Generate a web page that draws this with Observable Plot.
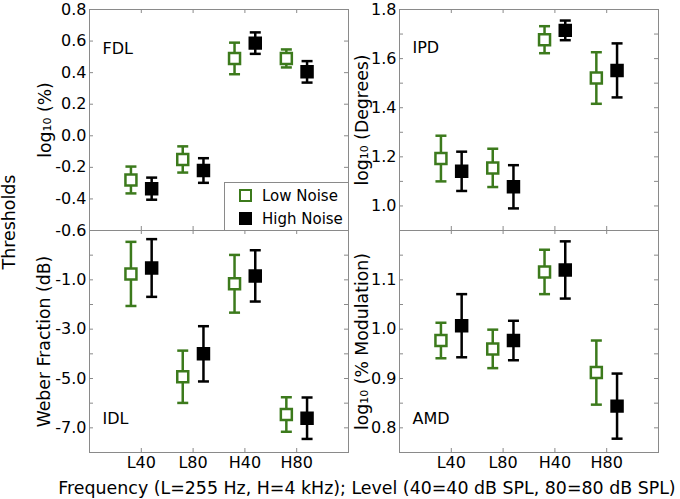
<!DOCTYPE html>
<html>
<head>
<meta charset="utf-8">
<script src="https://cdn.jsdelivr.net/npm/d3@7"></script>
<script src="https://cdn.jsdelivr.net/npm/@observablehq/plot@0.6"></script>
<style>
  body { margin: 0; background: #fff; font-family: "DejaVu Sans", sans-serif; }
  #wrap { position: relative; width: 680px; height: 499px; overflow: hidden; background: #fff; }
  #wrap svg.panel { position: absolute; }
  .lbl { position: absolute; font-size: 17.4px; color: #000; white-space: nowrap; line-height: 20px; }
  #legend { position: absolute; left: 224px; top: 182px; width: 125px; height: 49px; box-sizing: border-box;
            border: 1px solid #8a8a8a; background: #fff; font-size: 15px; }
  #legend .row { position: absolute; left: 0; height: 18px; line-height: 18px; }
  #legend .sw { position: absolute; left: 14px; top: 2px; width: 13px; height: 13px; box-sizing: border-box; }
  #legend .tx { position: absolute; left: 37px; top: 0; white-space: nowrap; }
</style>
</head>
<body>
<div id="wrap"></div>
<script>
// ---- data ----
const conditions = ["L40", "L80", "H40", "H80"];
const noiseLevels = ["Low Noise", "High Noise"];

// FDL: log10(%)
const fdlLow = [-0.28, -0.15, 0.49, 0.49];
const fdlLowErr = [0.085, 0.083, 0.10, 0.057];
const fdlHigh = [-0.335, -0.22, 0.587, 0.405];
const fdlHighErr = [0.07, 0.078, 0.068, 0.068];

// IPD: log10(Degrees)
const ipdLow = [1.193, 1.155, 1.677, 1.521];
const ipdLowErr = [0.093, 0.078, 0.055, 0.105];
const ipdHigh = [1.141, 1.078, 1.715, 1.552];
const ipdHighErr = [0.08, 0.088, 0.04, 0.11];

// IDL: Weber fraction (dB)
const idlLow = [-0.76, -4.93, -1.16, -6.46];
const idlLowErr = [1.30, 1.06, 1.17, 0.70];
const idlHigh = [-0.52, -4.0, -0.84, -6.61];
const idlHighErr = [1.17, 1.12, 1.04, 0.84];

// AMD: log10(% Modulation)
const amdLow = [0.977, 0.960, 1.116, 0.912];
const amdLowErr = [0.036, 0.039, 0.045, 0.065];
const amdHigh = [1.007, 0.977, 1.120, 0.844];
const amdHighErr = [0.064, 0.040, 0.058, 0.066];

// tick values
const xTicks = [1, 2, 3, 4];
const fdlTicks = [-0.6, -0.4, -0.2, 0.0, 0.2, 0.4, 0.6, 0.8];
const fdlLabels = [-0.6, -0.4, -0.2, 0.0, 0.2, 0.4, 0.6, 0.8];
const ipdTicks = [0.9, 1.0, 1.1, 1.2, 1.3, 1.4, 1.5, 1.6, 1.7, 1.8];
const ipdLabels = [1.0, 1.2, 1.4, 1.6, 1.8];
const idlTicks = [0, -1, -2, -3, -4, -5, -6, -7];
const idlLabels = [-1, -3, -5, -7];
const amdTicks = [0.8, 0.85, 0.9, 0.95, 1.0, 1.05, 1.1, 1.15];
const amdLabels = [0.8, 0.9, 1.0, 1.1];

// ---- style ----
const green = "#3c7a1c";
const gray = "#8a8a8a";
const wrap = document.getElementById("wrap");

const capSymbol = {
  draw(context) { context.moveTo(-5.5, 0); context.lineTo(5.5, 0); }
};

function panel(o) {
  const mL = 89, mR = 2, mT = 9, mB = o.showX ? 47 : 10;
  const W = 259;
  const rows = [];
  conditions.forEach((c, i) => {
    rows.push({cond: c, noise: noiseLevels[0], mean: o.low[i], err: o.lowErr[i]});
    rows.push({cond: c, noise: noiseLevels[1], mean: o.high[i], err: o.highErr[i]});
  });
  const xPos = d => conditions.indexOf(d.cond) + 1 + (d.noise === noiseLevels[0] ? -0.2 : 0.2);
  const col = d => d.noise === noiseLevels[0] ? green : "black";
  const fillCol = d => d.noise === noiseLevels[0] ? "white" : "black";
  const marks = [
    Plot.tickY(o.yTicks, {y: d => d, stroke: gray, insetRight: W - 4}),
    Plot.tickY(o.yTicks, {y: d => d, stroke: gray, insetLeft: W - 4}),
    Plot.tickX(xTicks, {x: d => d, stroke: gray, insetBottom: o.frameH - 4}),
    Plot.tickX(xTicks, {x: d => d, stroke: gray, insetTop: o.frameH - 4}),
    Plot.frame({stroke: gray}),
    Plot.axisY({ticks: o.yLabels, tickSize: 0, tickPadding: 3, tickFormat: d => d.toFixed(1), fontSize: 16, label: null}),
    Plot.ruleX(rows, {x: xPos, y1: d => d.mean - d.err, y2: d => d.mean + d.err, stroke: col, strokeWidth: 2.5}),
    Plot.dot(rows, {x: xPos, y: d => d.mean + d.err, symbol: capSymbol, fill: "none", stroke: col, strokeWidth: 2.5}),
    Plot.dot(rows, {x: xPos, y: d => d.mean - d.err, symbol: capSymbol, fill: "none", stroke: col, strokeWidth: 2.5}),
    Plot.dot(rows, {x: xPos, y: "mean", symbol: "square", r: 6.2, stroke: col, fill: fillCol, strokeWidth: 2.5}),
    Plot.text([o.title], {text: d => d, frameAnchor: "top-left", textAnchor: "start", lineAnchor: "top", dx: 13, dy: o.nameDy, fontSize: 16}),
    Plot.text([o.yLabel], {text: d => d, frameAnchor: "left", textAnchor: "middle", lineAnchor: "middle", rotate: -90, dx: o.labelDx, fontSize: 17.3})
  ];
  if (o.showX) {
    marks.push(Plot.axisX({ticks: xTicks, tickFormat: i => conditions[i - 1], tickSize: 0, tickPadding: 4, fontSize: 16, label: null}));
  }
  const svg = Plot.plot({
    width: W + mL + mR,
    height: o.frameH + mT + mB,
    marginLeft: mL, marginRight: mR, marginTop: mT, marginBottom: mB,
    x: {domain: [0, 5], axis: o.showX ? undefined : null},
    y: {domain: o.yDomain},
    color: {type: "identity"},
    style: {fontFamily: "DejaVu Sans, sans-serif", fontSize: "16px", background: "transparent", overflow: "visible", color: "black"},
    marks
  });
  svg.classList.add("panel");
  svg.style.position = "absolute";
  svg.style.left = (o.left - mL) + "px";
  svg.style.top = (o.top - mT) + "px";
  wrap.appendChild(svg);
}

panel({left: 89, top: 9, frameH: 221, yDomain: [-0.6, 0.8], yTicks: fdlTicks, yLabels: fdlLabels,
  title: "FDL", nameDy: 33, yLabel: "log₁₀ (%)", labelDx: -44,
  low: fdlLow, lowErr: fdlLowErr, high: fdlHigh, highErr: fdlHighErr, showX: false});
panel({left: 399, top: 9, frameH: 221, yDomain: [0.9, 1.8], yTicks: ipdTicks, yLabels: ipdLabels,
  title: "IPD", nameDy: 32, yLabel: "log₁₀ (Degrees)", labelDx: -37,
  low: ipdLow, lowErr: ipdLowErr, high: ipdHigh, highErr: ipdHighErr, showX: false});
panel({left: 89, top: 230, frameH: 222, yDomain: [-8, 1], yTicks: idlTicks, yLabels: idlLabels,
  title: "IDL", nameDy: 182, yLabel: "Weber Fraction (dB)", labelDx: -45,
  low: idlLow, lowErr: idlLowErr, high: idlHigh, highErr: idlHighErr, showX: true});
panel({left: 399, top: 230, frameH: 222, yDomain: [0.75, 1.2], yTicks: amdTicks, yLabels: amdLabels,
  title: "AMD", nameDy: 182, yLabel: "log₁₀ (% Modulation)", labelDx: -37,
  low: amdLow, lowErr: amdLowErr, high: amdHigh, highErr: amdHighErr, showX: true});

// legend (inside FDL panel)
const legend = document.createElement("div");
legend.id = "legend";
noiseLevels.forEach((n, i) => {
  const row = document.createElement("div");
  row.className = "row";
  row.style.top = (i === 0 ? 4 : 27) + "px";
  row.style.width = "123px";
  const sw = document.createElement("span");
  sw.className = "sw";
  if (i === 0) { sw.style.border = "2.5px solid " + green; sw.style.background = "#fff"; }
  else { sw.style.background = "#000"; }
  const tx = document.createElement("span");
  tx.className = "tx";
  tx.textContent = n;
  row.appendChild(sw); row.appendChild(tx);
  legend.appendChild(row);
});
wrap.appendChild(legend);

// shared labels
const yTitle = document.createElement("div");
yTitle.className = "lbl";
yTitle.textContent = "Thresholds";
yTitle.style.left = "9px";
yTitle.style.top = "222px";
yTitle.style.transform = "translate(-50%, -50%) rotate(-90deg)";
wrap.appendChild(yTitle);

const xTitle = document.createElement("div");
xTitle.className = "lbl";
xTitle.textContent = "Frequency (L=255 Hz, H=4 kHz); Level (40=40 dB SPL, 80=80 dB SPL)";
xTitle.style.left = "367px";
xTitle.style.top = "488px";
xTitle.style.transform = "translate(-50%, -50%)";
wrap.appendChild(xTitle);
</script>
</body>
</html>
